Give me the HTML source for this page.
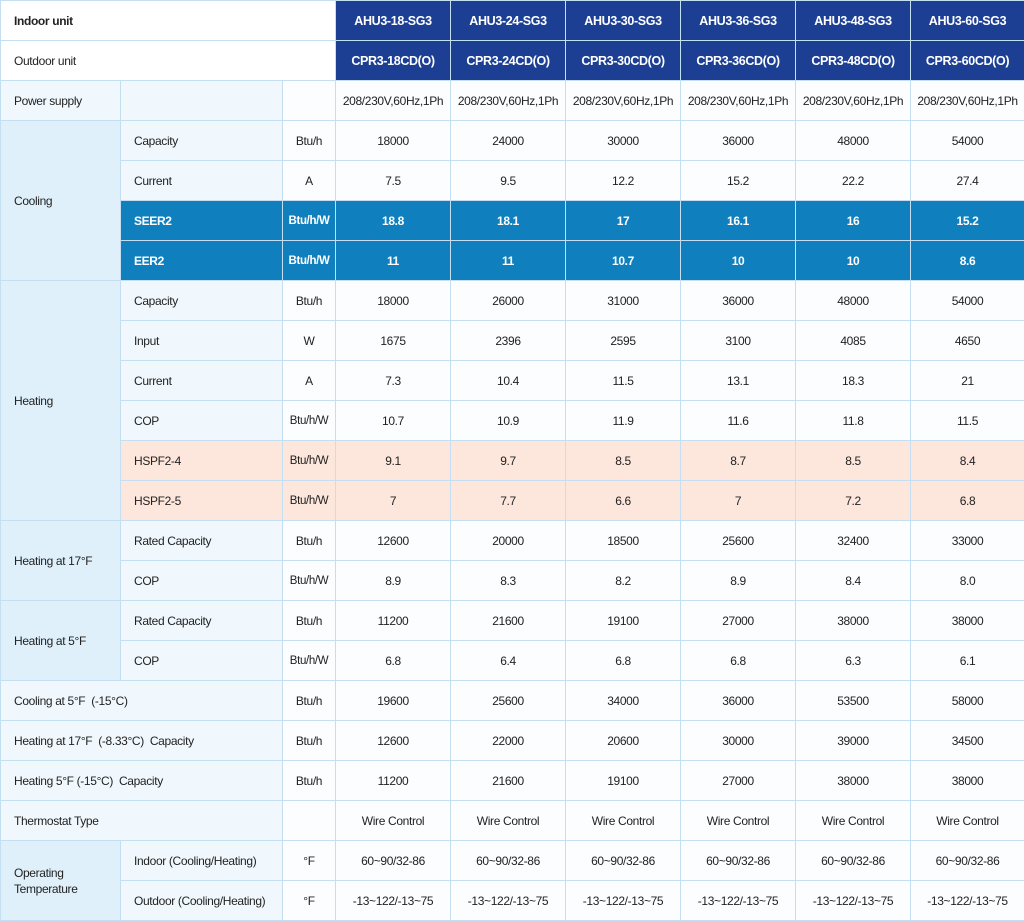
<!DOCTYPE html>
<html><head><meta charset="utf-8"><style>
html,body{margin:0;padding:0;background:#fff;width:1024px;height:921px;overflow:hidden}
table{border-collapse:collapse;table-layout:fixed;width:1024px;font-family:"Liberation Sans Narrow","Liberation Sans",sans-serif;font-size:12px;letter-spacing:-0.35px;color:#222}
td{height:39px;border:1px solid #c4def2;padding:0;text-align:center;background:#fbfdff;overflow:hidden;white-space:nowrap}
td.l{text-align:left;padding-left:13px;background:#f1f8fd}
td.g{text-align:left;padding-left:13px;background:#dff0fb;white-space:normal;line-height:16px}
td.h{background:#1c3f93;color:#fff;font-weight:bold;font-size:12.5px}
td.w{background:#fff;text-align:left;padding-left:13px}
tr.s td{background:#0f80bd;color:#fff;font-weight:bold}
tr.p td{background:#fde6dc}
tr.s td.g,tr.p td.g{background:#dff0fb;color:#222;font-weight:normal}
.u{font-size:11.5px}
</style></head><body>
<table>
<colgroup><col style="width:120px"><col style="width:162px"><col style="width:53px"><col style="width:115px"><col style="width:115px"><col style="width:115px"><col style="width:115px"><col style="width:115px"><col style="width:114px"></colgroup>
<tr><td class="w" colspan="3"><b>Indoor unit</b></td><td class="h">AHU3-18-SG3</td><td class="h">AHU3-24-SG3</td><td class="h">AHU3-30-SG3</td><td class="h">AHU3-36-SG3</td><td class="h">AHU3-48-SG3</td><td class="h">AHU3-60-SG3</td></tr>
<tr><td class="w" colspan="3">Outdoor unit</td><td class="h">CPR3-18CD(O)</td><td class="h">CPR3-24CD(O)</td><td class="h">CPR3-30CD(O)</td><td class="h">CPR3-36CD(O)</td><td class="h">CPR3-48CD(O)</td><td class="h">CPR3-60CD(O)</td></tr>
<tr><td class="l">Power supply</td><td class="l"></td><td></td><td>208/230V,60Hz,1Ph</td><td>208/230V,60Hz,1Ph</td><td>208/230V,60Hz,1Ph</td><td>208/230V,60Hz,1Ph</td><td>208/230V,60Hz,1Ph</td><td>208/230V,60Hz,1Ph</td></tr>
<tr><td class="g" rowspan="4">Cooling</td><td class="l">Capacity</td><td>Btu/h</td><td>18000</td><td>24000</td><td>30000</td><td>36000</td><td>48000</td><td>54000</td></tr>
<tr><td class="l">Current</td><td>A</td><td>7.5</td><td>9.5</td><td>12.2</td><td>15.2</td><td>22.2</td><td>27.4</td></tr>
<tr class="s"><td style="text-align:left;padding-left:13px">SEER2</td><td class="u">Btu/h/W</td><td>18.8</td><td>18.1</td><td>17</td><td>16.1</td><td>16</td><td>15.2</td></tr>
<tr class="s"><td style="text-align:left;padding-left:13px">EER2</td><td class="u">Btu/h/W</td><td>11</td><td>11</td><td>10.7</td><td>10</td><td>10</td><td>8.6</td></tr>
<tr><td class="g" rowspan="6">Heating</td><td class="l">Capacity</td><td>Btu/h</td><td>18000</td><td>26000</td><td>31000</td><td>36000</td><td>48000</td><td>54000</td></tr>
<tr><td class="l">Input</td><td>W</td><td>1675</td><td>2396</td><td>2595</td><td>3100</td><td>4085</td><td>4650</td></tr>
<tr><td class="l">Current</td><td>A</td><td>7.3</td><td>10.4</td><td>11.5</td><td>13.1</td><td>18.3</td><td>21</td></tr>
<tr><td class="l">COP</td><td class="u">Btu/h/W</td><td>10.7</td><td>10.9</td><td>11.9</td><td>11.6</td><td>11.8</td><td>11.5</td></tr>
<tr class="p"><td style="text-align:left;padding-left:13px">HSPF2-4</td><td class="u">Btu/h/W</td><td>9.1</td><td>9.7</td><td>8.5</td><td>8.7</td><td>8.5</td><td>8.4</td></tr>
<tr class="p"><td style="text-align:left;padding-left:13px">HSPF2-5</td><td class="u">Btu/h/W</td><td>7</td><td>7.7</td><td>6.6</td><td>7</td><td>7.2</td><td>6.8</td></tr>
<tr><td class="g" rowspan="2">Heating at 17°F</td><td class="l">Rated Capacity</td><td>Btu/h</td><td>12600</td><td>20000</td><td>18500</td><td>25600</td><td>32400</td><td>33000</td></tr>
<tr><td class="l">COP</td><td class="u">Btu/h/W</td><td>8.9</td><td>8.3</td><td>8.2</td><td>8.9</td><td>8.4</td><td>8.0</td></tr>
<tr><td class="g" rowspan="2">Heating at 5°F</td><td class="l">Rated Capacity</td><td>Btu/h</td><td>11200</td><td>21600</td><td>19100</td><td>27000</td><td>38000</td><td>38000</td></tr>
<tr><td class="l">COP</td><td class="u">Btu/h/W</td><td>6.8</td><td>6.4</td><td>6.8</td><td>6.8</td><td>6.3</td><td>6.1</td></tr>
<tr><td class="l" colspan="2">Cooling at 5°F&nbsp; (-15°C)</td><td>Btu/h</td><td>19600</td><td>25600</td><td>34000</td><td>36000</td><td>53500</td><td>58000</td></tr>
<tr><td class="l" colspan="2">Heating at 17°F&nbsp; (-8.33°C)&nbsp; Capacity</td><td>Btu/h</td><td>12600</td><td>22000</td><td>20600</td><td>30000</td><td>39000</td><td>34500</td></tr>
<tr><td class="l" colspan="2">Heating 5°F (-15°C)&nbsp; Capacity</td><td>Btu/h</td><td>11200</td><td>21600</td><td>19100</td><td>27000</td><td>38000</td><td>38000</td></tr>
<tr><td class="l" colspan="2">Thermostat Type</td><td></td><td>Wire Control</td><td>Wire Control</td><td>Wire Control</td><td>Wire Control</td><td>Wire Control</td><td>Wire Control</td></tr>
<tr><td class="g" rowspan="2">Operating Temperature</td><td class="l">Indoor (Cooling/Heating)</td><td>°F</td><td>60~90/32-86</td><td>60~90/32-86</td><td>60~90/32-86</td><td>60~90/32-86</td><td>60~90/32-86</td><td>60~90/32-86</td></tr>
<tr><td class="l">Outdoor (Cooling/Heating)</td><td>°F</td><td>-13~122/-13~75</td><td>-13~122/-13~75</td><td>-13~122/-13~75</td><td>-13~122/-13~75</td><td>-13~122/-13~75</td><td>-13~122/-13~75</td></tr>
</table>
</body></html>
